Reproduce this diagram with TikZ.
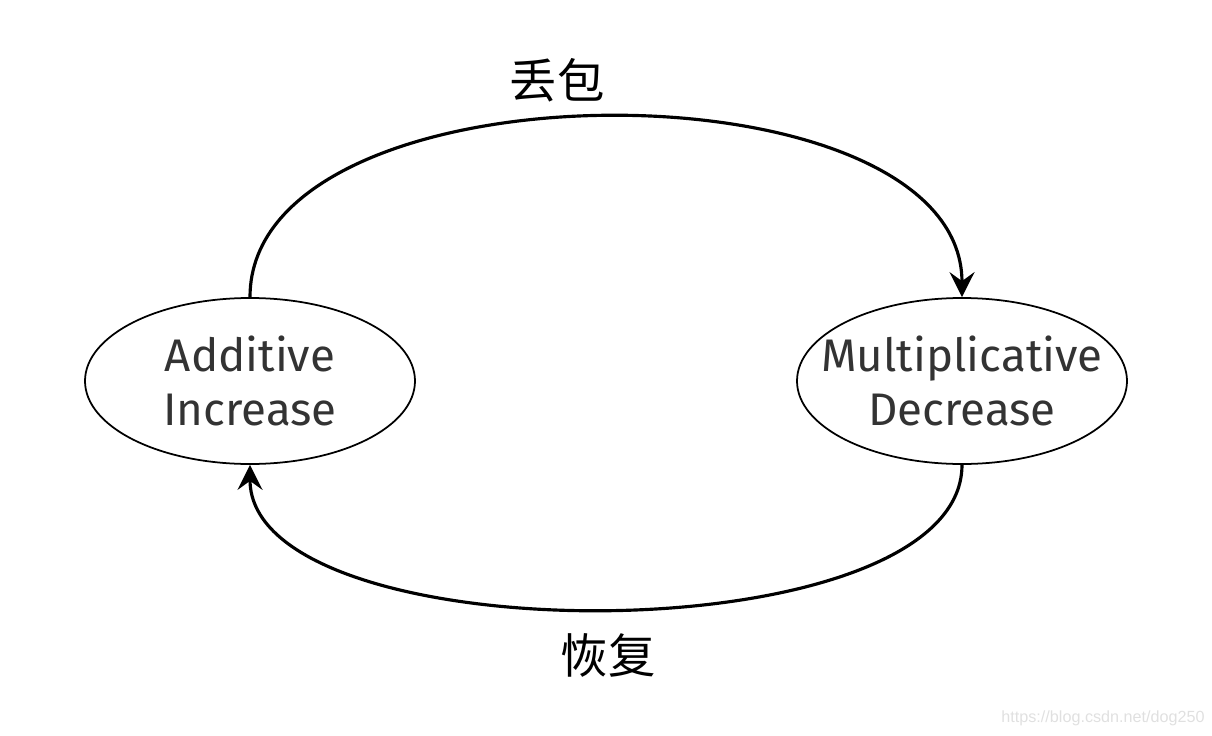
\documentclass[tikz,border=0pt]{standalone}
\usepackage{fontspec}
\setmainfont{Fira Sans}
\newfontfamily\cjk{Noto Sans CJK SC}
\newfontfamily\webfont{Liberation Sans}
\usetikzlibrary{arrows.meta,shapes.geometric}

\begin{document}
\begin{tikzpicture}[
  state/.style={draw, ellipse, line width=0.5pt, inner ysep=0pt, inner xsep=-0.35cm, minimum width=3.3cm, minimum height=1.66cm,
    align=center, text=black!80, font=\fontsize{13pt}{15.5pt}\selectfont},
  lbl/.style={font=\cjk\fontsize{13.5pt}{15pt}\selectfont},
  arrow/.style={-{Stealth[length=2.5mm, width=2.5mm, inset=0.9mm]}, line width=0.9pt}
]
\useasboundingbox (0,0) rectangle (12.12,-7.36);

\node[state] (ai) at (2.50,-3.81) {Additive\\Increase};
\node[state] (md) at (9.62,-3.81) {Multiplicative\\Decrease};

\node[lbl] (loss) at (5.57,-0.80) {丢包};
\node[lbl] (recover) at (6.08,-6.55) {恢复};
\node[font=\webfont\fontsize{4.6pt}{5pt}\selectfont, text=black!12] (mark) at (11.03,-7.18) {https://blog.csdn.net/dog250};

\draw[arrow] (ai.north) .. controls +(0,2.4) and +(0,2.4) .. (md.north);
\draw[arrow] (md.south) .. controls +(0,-1.92) and +(0,-1.92) .. (ai.south);
\end{tikzpicture}
\end{document}
